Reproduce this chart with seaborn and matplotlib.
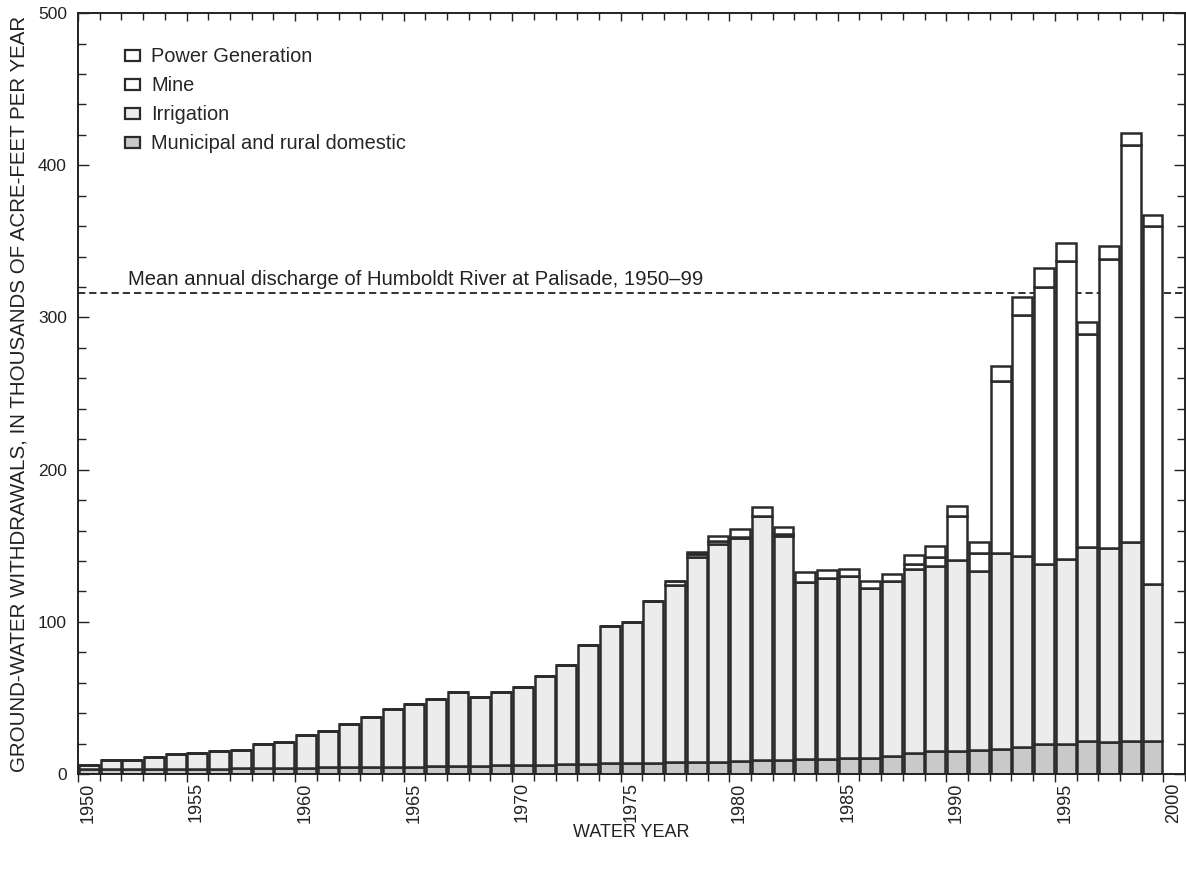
import numpy as np
import pandas as pd
import matplotlib
matplotlib.use("Agg")
import matplotlib.pyplot as plt
import matplotlib.transforms as mtransforms
from matplotlib.patches import Patch
from matplotlib.ticker import MultipleLocator
import seaborn as sns

years = list(range(1950, 2000))

municipal = [3, 3, 3, 3.2, 3.4, 3.5, 3.6, 3.8, 4, 4.1,
             4.2, 4.4, 4.5, 4.6, 4.8, 4.9, 5, 5.1, 5.1, 5.6,
             5.6, 6, 6.7, 6.7, 7.1, 7.3, 7.3, 7.8, 8.2, 8.2,
             8.5, 8.9, 9.3, 10, 9.6, 10.2, 10.6, 12.1, 13.6, 15.2,
             15.4, 15.6, 16.5, 17.6, 19.8, 19.8, 21.5, 21, 22, 21.5]

irrigation = [3, 6, 6.2, 8.1, 9.6, 10.5, 11.7, 12, 15.5, 17.1,
              21.3, 23.9, 28.5, 32.9, 37.8, 41, 44, 48.5, 45.2, 48,
              51.4, 58.3, 65.2, 78.3, 89.9, 92.7, 106.2, 116.5, 134.4, 143.1,
              146.5, 160.4, 146.8, 116.2, 119.2, 120.1, 111.6, 114.5, 120.9, 121.5,
              125.4, 117.7, 128.7, 125.4, 118.4, 121.7, 127.6, 127.4, 130.4, 103.6]

mine = [0] * 27 + [2.7, 2.1, 1.7,
                   0.7, 0, 1.8, 0, 0, 0, 0, 0, 3.3, 5.9,
                   28.5, 11.9, 113.1, 158.8, 182, 195.8, 140.2, 189.9, 260.9, 235.2]

power = [0] * 27 + [0, 1.1, 3.5,
                    5, 6, 4.4, 6.5, 5.5, 4.2, 4.4, 5, 5.9, 7,
                    6.5, 7.1, 10, 11.4, 12, 11.3, 7.9, 8.8, 8, 7]

categories = ["Power Generation", "Mine", "Irrigation", "Municipal and rural domestic"]
mean_discharge = 316
mean_label = "Mean annual discharge of Humboldt River at Palisade, 1950\u201399"

colors = {"Power Generation": "#ffffff", "Mine": "#ffffff",
          "Irrigation": "#ececec", "Municipal and rural domestic": "#c9c9c9"}

df = pd.concat([
    pd.DataFrame({"year": years, "value": power, "use": categories[0]}),
    pd.DataFrame({"year": years, "value": mine, "use": categories[1]}),
    pd.DataFrame({"year": years, "value": irrigation, "use": categories[2]}),
    pd.DataFrame({"year": years, "value": municipal, "use": categories[3]}),
], ignore_index=True)
df["year"] = df["year"].astype(float) + 0.5

sns.set_theme(style="ticks")
plt.rcParams["font.family"] = ["Liberation Sans", "DejaVu Sans"]

fig = plt.figure(figsize=(11.86, 8.73), dpi=100)
ax = fig.add_axes([0.0658, 0.1134, 0.9334, 0.8716])

edge = "#2b2b2b"
sns.histplot(data=df, x="year", weights="value", hue="use", hue_order=categories,
             multiple="stack", binwidth=1, binrange=(1950, 2000), shrink=0.92,
             palette=colors, edgecolor=edge, linewidth=1.8, alpha=1,
             legend=False, ax=ax)

ax.axhline(mean_discharge, color="#222222", lw=1.3, ls=(0, (4, 2.2)), zorder=0.5)
ax.text(1952.3, mean_discharge + 2.5, mean_label, fontsize=14.6, color="#222222",
        ha="left", va="bottom")

ax.set_xlim(1950, 2001)
ax.set_ylim(0, 500)

ax.xaxis.set_major_locator(MultipleLocator(5))
ax.xaxis.set_minor_locator(MultipleLocator(1))
ax.yaxis.set_major_locator(MultipleLocator(100))
ax.yaxis.set_minor_locator(MultipleLocator(20))

ax.tick_params(axis="x", which="both", direction="out", bottom=True, top=True,
               labelsize=13, colors="#222222", width=1.0, pad=0)
ax.tick_params(axis="x", which="major", length=6)
ax.tick_params(axis="x", which="minor", length=5)
ax.tick_params(axis="y", which="both", direction="in", left=True, right=True,
               labelsize=12.5, colors="#222222", width=1.0, pad=8)
ax.tick_params(axis="y", which="major", length=8)
ax.tick_params(axis="y", which="minor", length=6)

ax.set_xticks(np.arange(1950, 2001, 5))
ax.set_xticklabels([str(y) for y in range(1950, 2001, 5)], rotation=90)
for t in ax.xaxis.get_major_ticks() + ax.xaxis.get_minor_ticks():
    t.tick2line.set_marker(matplotlib.lines.TICKDOWN)
offset = mtransforms.ScaledTranslation(10 / 100, 0, fig.dpi_scale_trans)
for lab in ax.get_xticklabels():
    lab.set_transform(lab.get_transform() + offset)

for sp in ax.spines.values():
    sp.set_linewidth(1.4)
    sp.set_color("#222222")

ax.set_xlabel("WATER YEAR", fontsize=13, color="#222222", labelpad=1)
ax.set_ylabel("GROUND-WATER WITHDRAWALS, IN THOUSANDS OF ACRE-FEET PER YEAR",
              fontsize=14.8, color="#222222", labelpad=7)

handles = [Patch(facecolor=colors[c], edgecolor=edge, linewidth=1.6) for c in categories]
ax.legend(handles, categories, loc="upper left", bbox_to_anchor=(0.0425, 0.955),
          frameon=False, fontsize=14.4, handlelength=0.75, handleheight=0.5,
          handletextpad=0.55, labelspacing=0.5, borderaxespad=0, borderpad=0)

fig.savefig("out.png", dpi=100)
